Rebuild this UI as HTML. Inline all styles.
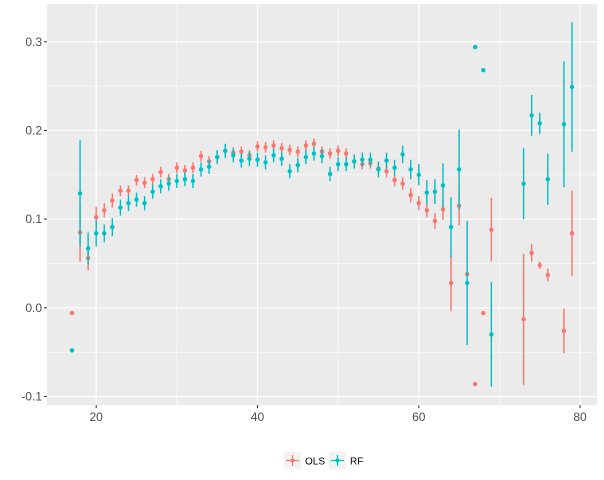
<!DOCTYPE html>
<html><head><meta charset="utf-8">
<style>
html,body{margin:0;padding:0;background:#fff;}
svg{display:block;font-family:"Liberation Sans",Arial,sans-serif;}
</style></head>
<body>
<svg id="chart" width="604" height="480"></svg>
<script>
const ages = [17,18,19,20,21,22,23,24,25,26,27,28,29,30,31,32,33,34,35,36,37,38,39,40,41,42,43,44,45,46,47,48,49,50,51,52,53,54,55,56,57,58,59,60,61,62,63,64,65,66,67,68,69,73,74,75,76,78,79];
const olsVals = [-0.006,0.085,0.056,0.102,0.110,0.121,0.132,0.132,0.144,0.141,0.145,0.153,0.145,0.158,0.155,0.158,0.171,0.165,0.170,0.177,0.175,0.176,0.172,0.182,0.181,0.183,0.180,0.178,0.176,0.183,0.185,0.176,0.174,0.177,0.174,0.165,0.162,0.163,0.157,0.154,0.144,0.140,0.127,0.118,0.110,0.098,0.111,0.028,0.115,0.038,-0.086,-0.006,0.088,-0.013,0.062,0.048,0.037,-0.026,0.084];
const olsErr = [0,0.033,0.014,0.012,0.008,0.008,0.006,0.006,0.006,0.006,0.006,0.006,0.006,0.006,0.006,0.006,0.006,0.006,0.006,0.006,0.006,0.006,0.006,0.006,0.006,0.006,0.006,0.006,0.006,0.006,0.006,0.006,0.006,0.006,0.006,0.006,0.006,0.006,0.007,0.007,0.007,0.007,0.008,0.008,0.008,0.009,0.012,0.032,0.022,0.004,0,0,0.036,0.074,0.010,0.004,0.007,0.025,0.048];
const rfVals = [-0.048,0.129,0.067,0.084,0.084,0.091,0.113,0.118,0.122,0.118,0.131,0.137,0.140,0.143,0.145,0.143,0.156,0.159,0.170,0.177,0.172,0.166,0.168,0.167,0.164,0.172,0.168,0.154,0.161,0.170,0.174,0.171,0.151,0.162,0.162,0.165,0.167,0.167,0.156,0.166,0.158,0.173,0.156,0.150,0.130,0.131,0.138,0.091,0.156,0.028,0.294,0.268,-0.030,0.140,0.217,0.208,0.145,0.207,0.249];
const rfErr = [0,0.060,0.018,0.015,0.010,0.010,0.009,0.009,0.008,0.008,0.008,0.008,0.008,0.008,0.008,0.008,0.008,0.008,0.008,0.008,0.008,0.008,0.008,0.008,0.008,0.008,0.008,0.008,0.008,0.008,0.008,0.008,0.008,0.008,0.008,0.008,0.008,0.008,0.009,0.009,0.009,0.010,0.011,0.012,0.014,0.014,0.025,0.034,0.045,0.070,0,0,0.059,0.040,0.023,0.012,0.029,0.071,0.073];
const xTicks = [20,40,60,80];
const xMinor = [30,50,70];
const yTicks = [-0.1,0.0,0.1,0.2,0.3];
const yMinor = [-0.05,0.05,0.15,0.25];
const yTickLabels = ["-0.1","0.0","0.1","0.2","0.3"];

const P = {l:47,r:597,t:4,b:405};
const xMin = 13.9, xMax = 82.1, yMin = -0.1096, yMax = 0.3426;
const X = v => P.l + (v - xMin) / (xMax - xMin) * (P.r - P.l);
const Y = v => P.b - (v - yMin) / (yMax - yMin) * (P.b - P.t);
const svg = document.getElementById('chart');
const NS = 'http://www.w3.org/2000/svg';
function mk(tag, attrs, parent) {
  const e = document.createElementNS(NS, tag);
  for (const k in attrs) e.setAttribute(k, attrs[k]);
  (parent || svg).appendChild(e);
  return e;
}
const panel = mk('rect', {x:P.l, y:P.t, width:P.r-P.l, height:P.b-P.t, fill:'#EBEBEB'});


yMinor.forEach(v => {
  const l = mk('line', {x1:P.l, x2:P.r, y1:Y(v), y2:Y(v), stroke:'#fff', 'stroke-width':0.6});
  
  
});
xMinor.forEach(v => {
  const l = mk('line', {x1:X(v), x2:X(v), y1:P.t, y2:P.b, stroke:'#fff', 'stroke-width':0.6});
  
  
});
yTicks.forEach((v, i) => {
  const l = mk('line', {x1:P.l, x2:P.r, y1:Y(v), y2:Y(v), stroke:'#fff', 'stroke-width':1.2});
  
  
  const tk = mk('line', {x1:P.l-3, x2:P.l, y1:Y(v), y2:Y(v), stroke:'#333', 'stroke-width':1});
  
  
  const t = mk('text', {x:P.l-5, y:Y(v)+4, 'text-anchor':'end', 'font-size':12, fill:'#4D4D4D'});
  t.textContent = yTickLabels[i];
  
  
});
xTicks.forEach(v => {
  const l = mk('line', {x1:X(v), x2:X(v), y1:P.t, y2:P.b, stroke:'#fff', 'stroke-width':1.2});
  
  
  const tk = mk('line', {x1:X(v), x2:X(v), y1:P.b, y2:P.b+3, stroke:'#333', 'stroke-width':1});
  
  
  const t = mk('text', {x:X(v), y:P.b+16, 'text-anchor':'middle', 'font-size':12, fill:'#4D4D4D'});
  t.textContent = String(v);
  
  
});
function series(vals, errs, color, name) {
  const g = mk('g', {});
  
  
  ages.forEach((a, i) => {
    if (errs[i] > 0) {
      const b = mk('line', {x1:X(a), x2:X(a), y1:Y(vals[i]-errs[i]), y2:Y(vals[i]+errs[i]), stroke:color, 'stroke-width':1.4}, g);
      
      
    }
    const c = mk('circle', {cx:X(a), cy:Y(vals[i]), r:2.2, fill:color}, g);
    
    
  });
}
series(olsVals, olsErr, '#F8766D', 'ols');
series(rfVals, rfErr, '#00BFC4', 'rf');
// legend
const leg = [['OLS','#F8766D',284],['RF','#00BFC4',329]];
leg.forEach(([lab, col, x0]) => {
  const g = mk('g', {});
  
  
  mk('rect', {x:x0, y:452, width:17, height:17, fill:'#F2F2F2'}, g);
  mk('line', {x1:x0+8.5, x2:x0+8.5, y1:455, y2:466, stroke:col, 'stroke-width':1.2}, g);
  mk('line', {x1:x0+2, x2:x0+15, y1:460.5, y2:460.5, stroke:col, 'stroke-width':1.2}, g);
  mk('circle', {cx:x0+8.5, cy:460.5, r:2, fill:col}, g);
  const t = mk('text', {x:x0+21, y:464.5, 'font-size':10, fill:'#000'}, g);
  t.textContent = lab;
});
</script>
</body></html>
